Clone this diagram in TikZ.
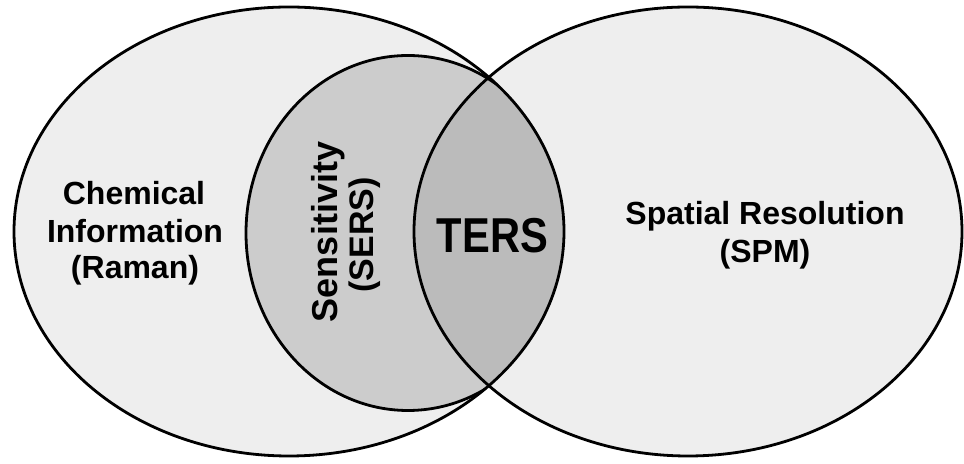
\documentclass[tikz,border=0pt]{standalone}
\usepackage{fontspec}
\setmainfont{Liberation Sans}
\definecolor{lightfill}{HTML}{EEEEEE}
\definecolor{midfill}{HTML}{CCCCCC}
\definecolor{darkfill}{HTML}{BBBBBB}
\tikzset{
  outline/.style={draw=black, line width=2.8bp},
  lbl/.style={inner sep=0pt, anchor=base, font=\bfseries\fontsize{32bp}{38bp}\selectfont},
  vlbl/.style={inner sep=0pt, anchor=base, rotate=90, font=\bfseries\fontsize{34bp}{40bp}\selectfont},
}
\begin{document}
\begin{tikzpicture}[x=1bp,y=1bp]
\useasboundingbox (0,0) rectangle (964,464);
% fills
\fill[lightfill] (289,232.5) ellipse [x radius=275, y radius=224.5];
\fill[lightfill] (688,232.5) ellipse [x radius=274, y radius=224.5];
\begin{scope}
  \clip (289,232.5) ellipse [x radius=275, y radius=224.5];
  \fill[midfill] (408,231) ellipse [x radius=162, y radius=177.5];
  \begin{scope}
    \clip (408,231) ellipse [x radius=162, y radius=177.5];
    \fill[darkfill] (688,232.5) ellipse [x radius=274, y radius=224.5];
  \end{scope}
  \draw[outline] (408,231) ellipse [x radius=162, y radius=177.5];
\end{scope}
% outlines
\draw[outline] (289,232.5) ellipse [x radius=275, y radius=224.5];
\draw[outline] (688,232.5) ellipse [x radius=274, y radius=224.5];
% labels
\node[lbl] (chem1) at (134,259) {Chemical};
\node[lbl] (chem2) at (135,221) {Information};
\node[lbl] (chem3) at (135,185) {(Raman)};
\node[lbl] (spat1) at (765,239) {Spatial Resolution};
\node[lbl] (spat2) at (765,201) {(SPM)};
\node[inner sep=0pt, anchor=base] (ters) at (492.5,211)
  {\scalebox{0.85}[1]{\bfseries\fontsize{49bp}{55bp}\selectfont TERS}};
\node[vlbl, font=\bfseries\fontsize{36bp}{40bp}\selectfont] (sens1) at (337,232) {Sensitivity};
\node[vlbl] (sens2) at (373,229) {(SERS)};
\end{tikzpicture}
\end{document}
